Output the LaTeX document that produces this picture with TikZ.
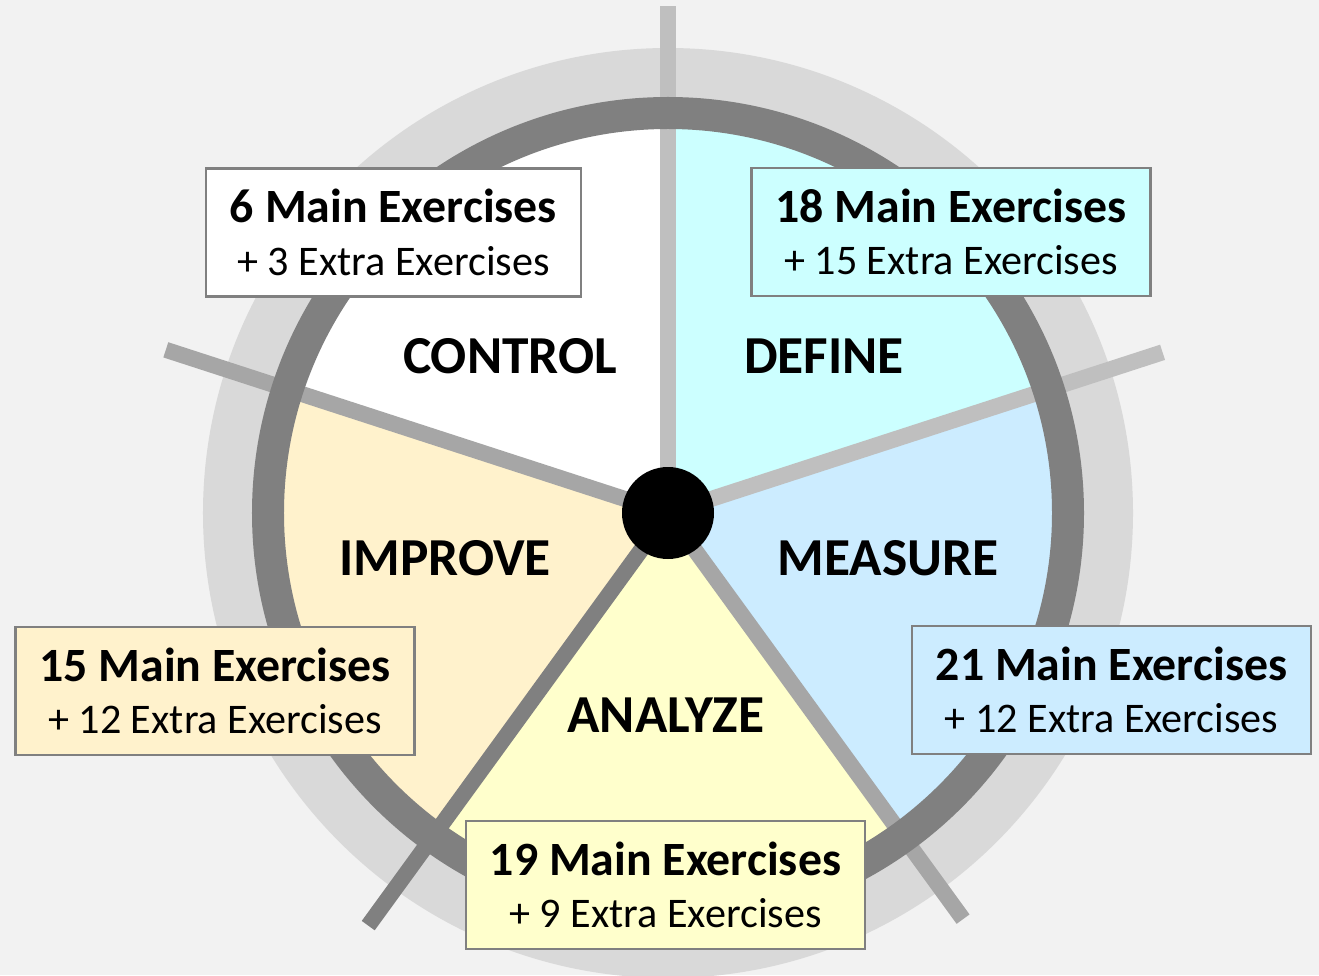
\documentclass[tikz,border=0pt]{standalone}
\usepackage{fontspec}
\setmainfont{Carlito}
\usetikzlibrary{positioning}

\definecolor{bggray}{HTML}{F2F2F2}
\definecolor{ringlight}{HTML}{D9D9D9}
\definecolor{ringdark}{HTML}{808080}
\definecolor{spokelight}{HTML}{BFBFBF}
\definecolor{spokemid}{HTML}{A6A6A6}
\definecolor{defcyan}{HTML}{CCFFFF}
\definecolor{measblue}{HTML}{CCECFF}
\definecolor{analyellow}{HTML}{FFFFCC}
\definecolor{imprcream}{HTML}{FFF2CC}

\newcommand{\exlines}[2]{\textbf{#1 Main Exercises}\\{\fontsize{12}{14}\selectfont + #2 Extra Exercises}}

\tikzset{
  spoke/.style={line width=1.6mm},
  phase/.style={font=\fontsize{15.2}{18}\selectfont\bfseries},
  counts/.style={draw=ringdark, line width=0.7pt, align=center,
    inner xsep=2.4mm, minimum height=12.8mm,
    font=\fontsize{13.6}{15}\selectfont},
}

\begin{document}
\begin{tikzpicture}[x=0.1mm, y=0.1mm]
  \fill[bggray] (-668,-462) rectangle (651,513);
  \useasboundingbox (-668,-462) rectangle (651,513);
  \fill[ringlight] (0,0) circle (465);

  % the five phases
  \fill[white]      (0,0) -- (90:400) arc (90:162:400) -- cycle;
  \fill[defcyan]    (0,0) -- (18:400) arc (18:90:400) -- cycle;
  \fill[measblue]   (0,0) -- (-54:400) arc (-54:18:400) -- cycle;
  \fill[analyellow] (0,0) -- (-126:400) arc (-126:-54:400) -- cycle;
  \fill[imprcream]  (0,0) -- (162:400) arc (162:234:400) -- cycle;

  % spokes, under the rim
  \draw[spoke, spokelight] (0,0) -- (90:507);
  \draw[spoke, spokelight] (0,0) -- (18:520);
  \draw[spoke, spokemid]   (0,0) -- (162:528);
  \draw[spoke, spokemid]   (0,0) -- (-54:502);
  \draw[ringdark, line width=3.2mm] (0,0) circle (400);
  \draw[spoke, ringdark]   (0,0) -- (234:510);
  \node[circle, fill=black, inner sep=0pt, minimum size=9.2mm] (hub) at (0,0) {};

  % phase names
  \node[phase] (control) at (-158,157) {CONTROL};
  \node[phase] (define)  at (156,157)  {DEFINE};
  \node[phase] (measure) at (220,-45)  {MEASURE};
  \node[phase] (improve) at (-223,-45) {IMPROVE};
  \node[phase] (analyze) at (-2,-202)  {ANALYZE};

  % exercise counts
  \node[counts, fill=white]      (controlbox) at (-274.5,280.5) {\exlines{6}{3}};
  \node[counts, fill=defcyan]    (definebox)  at (283,281)      {\exlines{18}{15}};
  \node[counts, fill=measblue]   (measurebox) at (443.5,-177)   {\exlines{21}{12}};
  \node[counts, fill=imprcream]  (improvebox) at (-453,-178)    {\exlines{15}{12}};
  \node[counts, fill=analyellow] (analyzebox) at (-2.5,-372)    {\exlines{19}{9}};
\end{tikzpicture}
\end{document}
